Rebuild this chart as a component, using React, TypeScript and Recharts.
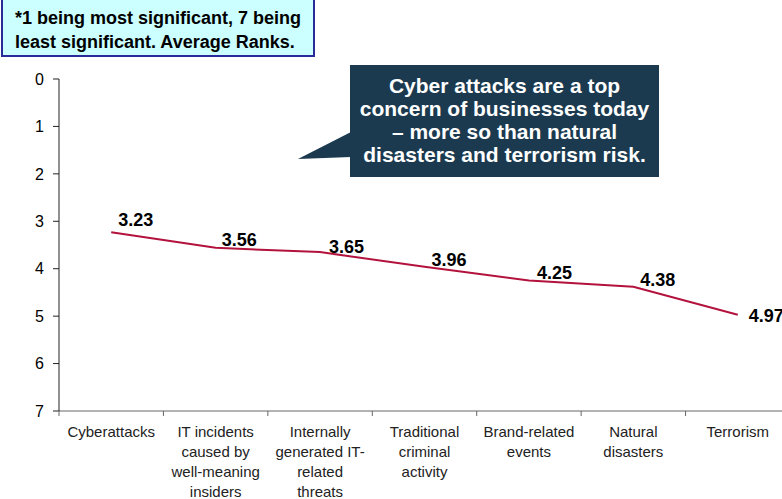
import React from "react";
import { LabelList, Line, LineChart, XAxis, YAxis } from "recharts";

// Average rank (1 = most significant, 7 = least) per risk category.
const categories = [
  "Cyberattacks",
  "IT incidents\ncaused by\nwell-meaning\ninsiders",
  "Internally\ngenerated IT-\nrelated\nthreats",
  "Traditional\ncriminal\nactivity",
  "Brand-related\nevents",
  "Natural\ndisasters",
  "Terrorism",
];
const averageRanks = [3.23, 3.56, 3.65, 3.96, 4.25, 4.38, 4.97];
const rankTicks = [0, 1, 2, 3, 4, 5, 6, 7];

const data = categories.map((name, i) => ({ name, rank: averageRanks[i] }));

const FONT = '"Liberation Sans", Arial, Helvetica, sans-serif';
const LINE_COLOR = "#B3123D";

const CHART_W = 800;
const CHART_H = 499;
const MARGIN = { top: 79, right: 10, bottom: 0, left: 0 };
const Y_AXIS_W = 59;
const HALF_BAND =
  (CHART_W - MARGIN.left - MARGIN.right - Y_AXIS_W) / categories.length / 2;

// label nudges (dx, dy) so the numbers sit just above/right of each point
const labelNudge: [number, number][] = [
  [7, -6],
  [6, -2],
  [9, 1],
  [7, -1],
  [8, -2],
  [7, -1],
  [11, 7],
];

function CategoryTick(props: any) {
  const { x, y, payload, index } = props;
  const lines = String(payload.value).split("\n");
  const last = index === categories.length - 1;
  return (
    <g>
      <line x1={x - HALF_BAND} y1={y} x2={x - HALF_BAND} y2={y + 5} stroke="#666" />
      {last && (
        <line x1={x + HALF_BAND} y1={y} x2={x + HALF_BAND} y2={y + 5} stroke="#666" />
      )}
      <text
        x={x}
        y={y}
        textAnchor="middle"
        fontFamily={FONT}
        fontSize={15}
        fill="#222"
      >
        {lines.map((t, i) => (
          <tspan key={i} x={x} y={y + 26 + i * 20}>
            {t}
          </tspan>
        ))}
      </text>
    </g>
  );
}

function RankLabel(props: any) {
  const { x, y, value, index } = props;
  const [dx, dy] = labelNudge[index] ?? [7, -2];
  return (
    <text
      x={x + dx}
      y={y + dy}
      fontFamily={FONT}
      fontSize={18}
      fontWeight="bold"
      fill="#000"
    >
      {Number(value).toFixed(2)}
    </text>
  );
}

export default function App() {
  return (
    <div
      style={{
        position: "fixed",
        left: 0,
        top: 0,
        width: 782,
        height: 499,
        overflow: "hidden",
        background: "#fff",
        fontFamily: FONT,
      }}
    >
      <LineChart width={CHART_W} height={CHART_H} data={data} margin={MARGIN}>
        <XAxis
          dataKey="name"
          scale="band"
          interval={0}
          tickLine={false}
          tickSize={0}
          tickMargin={0}
          height={CHART_H - 411}
          axisLine={{ stroke: "#666" }}
          tick={<CategoryTick />}
        />
        <YAxis
          type="number"
          domain={[0, 7]}
          ticks={rankTicks}
          reversed
          width={Y_AXIS_W}
          tickSize={6}
          tickMargin={9}
          axisLine={{ stroke: "#222" }}
          tickLine={{ stroke: "#222" }}
          tick={{ fontFamily: FONT, fontSize: 16, fill: "#000" }}
        />
        <Line
          dataKey="rank"
          stroke={LINE_COLOR}
          strokeWidth={2}
          dot={false}
          activeDot={false}
          isAnimationActive={false}
        >
          <LabelList dataKey="rank" content={<RankLabel />} />
        </Line>
      </LineChart>

      {/* footnote box, top left */}
      <div
        style={{
          position: "absolute",
          left: 1,
          top: -4,
          width: 314,
          height: 61,
          background: "#CCFFFF",
          border: "2px solid #2A2A9A",
          boxSizing: "border-box",
          padding: "8px 0 0 12px",
          fontSize: 18,
          fontWeight: "bold",
          lineHeight: "24px",
          color: "#000",
        }}
      >
        *1 being most significant, 7 being
        <br />
        least significant. Average Ranks.
      </div>

      {/* callout */}
      <svg
        width={782}
        height={499}
        style={{ position: "absolute", left: 0, top: 0, pointerEvents: "none" }}
      >
        <polygon points="351,132 298,159 351,157" fill="#1B3A4F" />
      </svg>
      <div
        style={{
          position: "absolute",
          left: 350,
          top: 65,
          width: 309,
          height: 112,
          background: "#1B3A4F",
          color: "#fff",
          fontSize: 21,
          fontWeight: "bold",
          lineHeight: "23px",
          textAlign: "center",
          boxSizing: "border-box",
          paddingTop: 9,
          whiteSpace: "nowrap",
        }}
      >
        Cyber attacks are a top
        <br />
        concern of businesses today
        <br />– more so than natural
        <br />
        disasters and terrorism risk.
      </div>
    </div>
  );
}
